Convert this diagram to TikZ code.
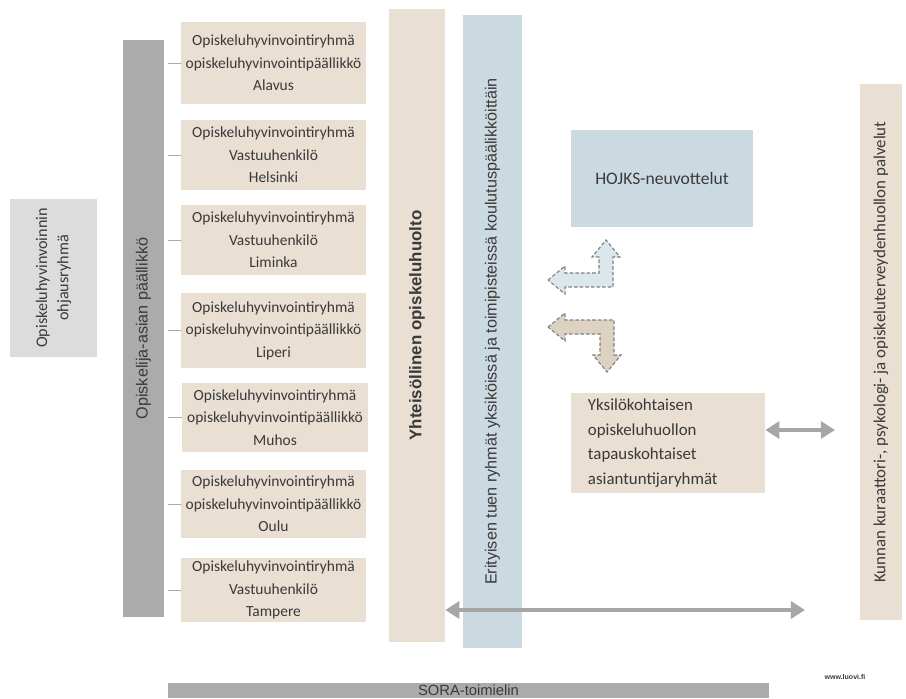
\documentclass[tikz,border=0pt]{standalone}
\usepackage{fontspec}
\setmainfont{Carlito}
\newfontfamily\arialfont{Liberation Sans}
\usetikzlibrary{arrows.meta, positioning}

\definecolor{tanfill}{HTML}{E9DFD2}
\definecolor{bluefill}{HTML}{CADAE0}
\definecolor{palegray}{HTML}{DCDCDC}
\definecolor{bargray}{HTML}{ABABAB}
\definecolor{linkgray}{HTML}{A6A6A6}
\definecolor{inkgray}{HTML}{3A3A3A}
\definecolor{paleblue}{HTML}{DCE7EB}
\definecolor{paletan}{HTML}{DDD2C1}

\begin{document}
\begin{tikzpicture}[x=0.025cm, y=-0.025cm]
        % Styles
        \tikzstyle{groupbox} = [fill=tanfill, inner sep=0pt, minimum width=4.625cm, align=center,
                                text=inkgray, font=\fontsize{11}{16}\selectfont]
        \tikzstyle{bar} = [inner sep=0pt, rotate=90, align=center, text=inkgray]
        \tikzstyle{tick} = [draw=bargray, line width=0.6pt, shorten <=0.1cm]
        \tikzstyle{link} = [draw=linkgray, line width=3.5pt,
                            {Triangle[width=12pt, length=10pt]}-{Triangle[width=12pt, length=10pt]}]
        \tikzstyle{dasharrow} = [draw=gray, line width=0.8pt, dash pattern=on 2.5pt off 1.5pt]

        \useasboundingbox (0,0) rectangle (906,698);

        % Steering group and student affairs manager (rotated: south = right edge)
        \node[bar, fill=palegray, minimum width=3.95cm, minimum height=2.175cm,
              font=\fontsize{11.5}{15}\selectfont] (ohjaus) at (53.5,278) {Opiskeluhyvinvoinnin\\ohjausryhmä};
        \node[bar, fill=bargray, minimum width=14.425cm, minimum height=1.025cm,
              font=\arialfont\fontsize{11.5}{13}\selectfont] (paallikko) at (143.5,328.5) {Opiskelija-asian päällikkö};

        % Well-being groups of the units
        \node[groupbox, minimum height=2.05cm] (alavus) at (273.5,63) {Opiskeluhyvinvointiryhmä\\opiskeluhyvinvointipäällikkö\\Alavus};
        \node[groupbox, minimum height=1.75cm] (helsinki) at (273.5,155) {Opiskeluhyvinvointiryhmä\\Vastuuhenkilö\\Helsinki};
        \node[groupbox, minimum height=1.75cm] (liminka) at (273.5,240) {Opiskeluhyvinvointiryhmä\\Vastuuhenkilö\\Liminka};
        \node[groupbox, minimum height=1.875cm] (liperi) at (273.5,330.5) {Opiskeluhyvinvointiryhmä\\opiskeluhyvinvointipäällikkö\\Liperi};
        \node[groupbox, minimum height=1.725cm] (muhos) at (275,417.5) {Opiskeluhyvinvointiryhmä\\opiskeluhyvinvointipäällikkö\\Muhos};
        \node[groupbox, minimum height=1.7cm] (oulu) at (273.5,504) {Opiskeluhyvinvointiryhmä\\opiskeluhyvinvointipäällikkö\\Oulu};
        \node[groupbox, minimum height=1.6cm] (tampere) at (273.5,590) {Opiskeluhyvinvointiryhmä\\Vastuuhenkilö\\Tampere};

        % Ticks from the manager bar to the groups
        \foreach \b in {alavus, helsinki, liminka, liperi, muhos, oulu, tampere}
            \draw[tick] (paallikko.south |- \b.west) -- (\b.west);

        % Long vertical bars
        \node[bar, fill=tanfill, minimum width=15.825cm, minimum height=1.4cm,
              font=\arialfont\bfseries\fontsize{12}{14}\selectfont] (yhteiso) at (417,325.5) {Yhteisöllinen opiskeluhuolto};
        \node[bar, fill=bluefill, minimum width=15.825cm, minimum height=1.475cm,
              font=\arialfont\fontsize{11.5}{13}\selectfont] (erityis) at (492.5,331.5) {Erityisen tuen ryhmät yksiköissä ja toimipisteissä koulutuspäälikköittäin};
        \node[bar, fill=tanfill, minimum width=13.4cm, minimum height=1.05cm,
              font=\fontsize{12}{14}\selectfont] (kunnan) at (881,352) {Kunnan kuraattori-, psykologi- ja opiskeluterveydenhuollon palvelut};

        % Right-hand boxes
        \node[fill=bluefill, minimum width=4.55cm, minimum height=2.425cm, text=inkgray,
              font=\fontsize{12.5}{14}\selectfont] (hojks) at (662,178.5) {HOJKS-neuvottelut};
        \node[fill=tanfill, minimum width=4.85cm, minimum height=2.5cm, text width=4cm, inner xsep=0.425cm,
              align=left, text=inkgray, font=\fontsize{12}{17.4}\selectfont] (yks) at (668,443)
              {Yksilökohtaisen\\opiskeluhuollon\\tapauskohtaiset\\asiantuntijaryhmät};

        % Dashed block arrows between the boxes
        \draw[dasharrow, fill=paleblue] (548,280) -- (565,266) -- (565,273) -- (599,273) -- (599,257) -- (592,257)
            -- (606,240) -- (620,257) -- (613,257) -- (613,287) -- (565,287) -- (565,294) -- cycle;
        \draw[dasharrow, fill=paletan] (548,327) -- (565,313) -- (565,320) -- (614,320) -- (614,355) -- (621,355)
            -- (607,372) -- (593,355) -- (600,355) -- (600,334) -- (565,334) -- (565,341) -- cycle;

        % Two-way links
        \coordinate (kunnanend) at (835,430);
        \coordinate (bottomend) at (805,610);
        \draw[link] (yks.east |- kunnanend) -- (kunnanend);
        \draw[link] (yhteiso.south |- bottomend) -- (bottomend);

        % SORA body and web address
        \node[fill=bargray, minimum width=15.025cm, minimum height=0.375cm, inner sep=0pt, text=inkgray,
              font=\arialfont\fontsize{10.5}{12}\selectfont] (sora) at (468.5,690.5) {SORA-toimielin};
        \node[text=inkgray, font=\arialfont\bfseries\fontsize{5}{6}\selectfont] (www) at (845,677) {www.luovi.fi};
\end{tikzpicture}
\end{document}
